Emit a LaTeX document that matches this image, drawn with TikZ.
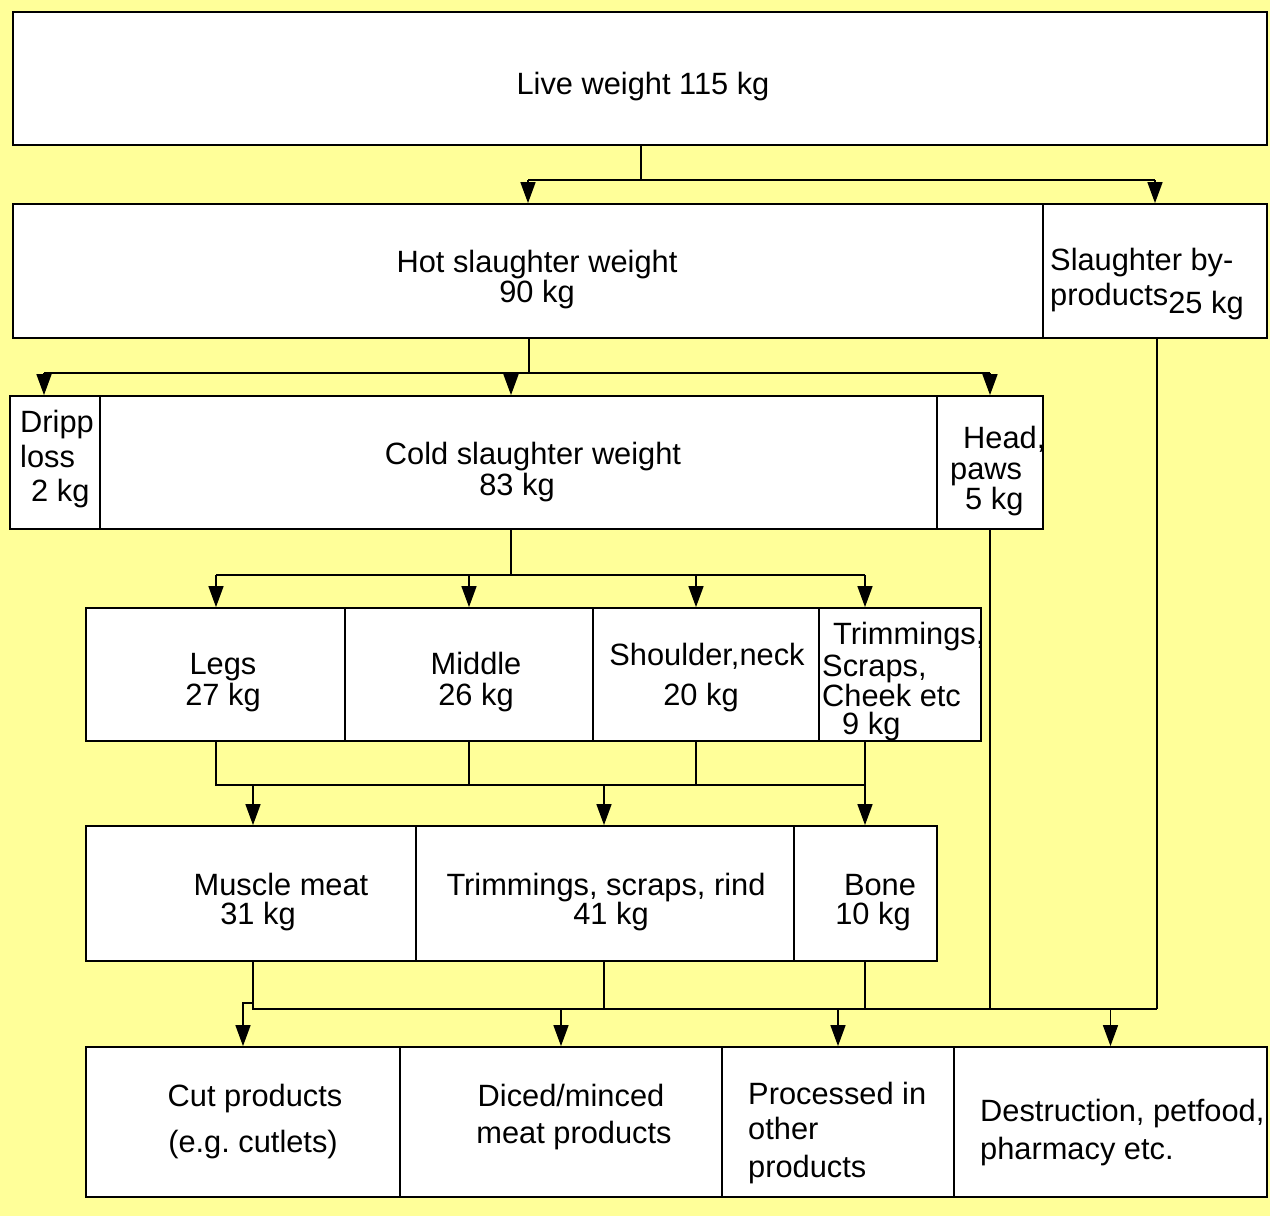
\documentclass[tikz,border=0pt]{standalone}
\usepackage{fontspec}
\setmainfont{Liberation Sans}
\usetikzlibrary{arrows.meta}
\definecolor{bgyellow}{HTML}{FFFF99}

% a white cell given by its left, top, right and bottom edges
\newcommand\cell[5]{%
  \node[box, minimum width={(#4-#2)*1pt}, minimum height={(#5-#3)*1pt}]
    (#1) at ({(#2+#4)/2},{(#3+#5)/2}) {};}

\begin{document}
\begin{tikzpicture}[x=1pt,y=-1pt,
  box/.style={draw=black, fill=white, line width=1.8pt, inner sep=0pt},
  wire/.style={draw=black, line width=1.5pt},
  arr/.style={wire, -{Triangle[length=21pt,width=15pt]}},
  lbl/.style={inner sep=0pt, anchor=base, text=black,
              font=\fontsize{30.8}{30}\selectfont},
  lbll/.style={lbl, anchor=base west}]

\fill[bgyellow] (0,0) rectangle (1270,1216);
\useasboundingbox (0,0) rectangle (1270,1216);

% ---- cells ----
\cell{live}{13}{12}{1267}{145}
\cell{hot}{13}{204}{1043}{338}
\cell{byp}{1043}{204}{1267}{338}
\cell{dripp}{10}{396}{100}{529}
\cell{cold}{100}{396}{937}{529}
\cell{head}{937}{396}{1043}{529}
\cell{legs}{86}{608}{345}{741}
\cell{middle}{345}{608}{593}{741}
\cell{shoulder}{593}{608}{819}{741}
\cell{trim}{819}{608}{981}{741}
\cell{muscle}{86}{826}{416}{961}
\cell{rind}{416}{826}{794}{961}
\cell{bone}{794}{826}{937}{961}
\cell{cut}{86}{1047}{400}{1197}
\cell{diced}{400}{1047}{722}{1197}
\cell{proc}{722}{1047}{954}{1197}
\cell{dest}{954}{1047}{1267}{1197}

% ---- live weight -> hot weight / by-products ----
\coordinate (r1) at (641,180);
\draw[wire] (r1 |- live.south) -- (r1);
\draw[wire] (r1 -| hot.north) -- (r1 -| byp.north);
\draw[arr] (r1 -| hot.north) -- (hot.north);
\draw[arr] (r1 -| byp.north) -- (byp.north);

% ---- hot weight -> dripp loss / cold weight / head ----
\coordinate (r2) at (529,373);
\coordinate (a1) at (44,373);
\coordinate (a2) at (511,373);
\coordinate (a3) at (990,373);
\draw[wire] (r2 |- hot.south) -- (r2);
\draw[wire] (a1) -- (a3);
\draw[arr] (a1) -- (a1 |- dripp.north);
\draw[arr] (a2) -- (a2 |- cold.north);
\draw[arr] (a3) -- (a3 |- head.north);

% ---- cold weight -> cuts ----
\coordinate (r3) at (511,575);
\coordinate (b1) at (216,575);
\coordinate (b2) at (469,575);
\coordinate (b3) at (696,575);
\coordinate (b4) at (865,575);
\draw[wire] (r3 |- cold.south) -- (r3);
\draw[wire] (b1) -- (b4);
\draw[arr] (b1) -- (b1 |- legs.north);
\draw[arr] (b2) -- (b2 |- middle.north);
\draw[arr] (b3) -- (b3 |- shoulder.north);
\draw[arr] (b4) -- (b4 |- trim.north);

% ---- cuts -> meat / trimmings / bone ----
\coordinate (c1) at (216,785);
\coordinate (c2) at (469,785);
\coordinate (c3) at (696,785);
\coordinate (c4) at (865,785);
\coordinate (d1) at (253,785);
\coordinate (d2) at (604,785);
\draw[wire] (c1 |- legs.south) -- (c1) -- (c4);
\draw[wire] (c2 |- middle.south) -- (c2);
\draw[wire] (c3 |- shoulder.south) -- (c3);
\draw[wire] (c4 |- trim.south) -- (c4);
\draw[arr] (d1) -- (d1 |- muscle.north);
\draw[arr] (d2) -- (d2 |- rind.north);
\draw[arr] (c4) -- (c4 |- bone.north);

% ---- everything -> end uses ----
\coordinate (e1) at (253,1009);
\coordinate (e2) at (604,1009);
\coordinate (e3) at (865,1009);
\coordinate (e4) at (990,1009);
\coordinate (e5) at (1157,1009);
\coordinate (jog) at (253,1003);
\draw[wire] (e1 |- muscle.south) -- (e1) -- (e5);
\draw[wire] (e2 |- rind.south) -- (e2);
\draw[wire] (e3 |- bone.south) -- (e3);
\draw[wire] (e4 |- head.south) -- (e4);
\draw[wire] (e5 |- byp.south) -- (e5);
\draw[arr] (jog) -| (cut.north);
\draw[arr] (e1 -| diced.north) -- (diced.north);
\draw[arr] (e1 -| proc.north) -- (proc.north);
\draw[arr] (e1 -| dest.north) -- (dest.north);

% ---- texts ----
\node[lbl] (t-live) at (643,94) {Live weight 115 kg};

\node[lbl] (t-hot1) at (537,272) {Hot slaughter weight};
\node[lbl] (t-hot2) at (537,302) {90 kg};
\node[lbll] (t-byp1) at (1050,270) {Slaughter by-};
\node[lbll] (t-byp2) at (1050,305) {products\raisebox{-8pt}{25 kg}};

\node[lbll] (t-dri1) at (20,432) {Dripp};
\node[lbll] (t-dri2) at (20,467) {loss};
\node[lbll] (t-dri3) at (31,501) {2 kg};
\node[lbl] (t-cold1) at (533,464) {Cold slaughter weight};
\node[lbl] (t-cold2) at (517,495) {83 kg};
\node[lbll] (t-head1) at (963,448) {Head,};
\node[lbll] (t-head2) at (950,479) {paws};
\node[lbll] (t-head3) at (965,509) {5 kg};

\node[lbl] (t-legs1) at (223,674) {Legs};
\node[lbl] (t-legs2) at (223,705) {27 kg};
\node[lbl] (t-mid1) at (476,674) {Middle};
\node[lbl] (t-mid2) at (476,705) {26 kg};
\node[lbl] (t-sho1) at (707,665) {Shoulder,neck};
\node[lbl] (t-sho2) at (701,705) {20 kg};
\node[lbll] (t-tri1) at (833,644) {Trimmings,};
\node[lbll] (t-tri2) at (822,676) {Scraps,};
\node[lbll] (t-tri3) at (822,706) {Cheek etc};
\node[lbll] (t-tri4) at (842,734) {9 kg};

\node[lbl] (t-mus1) at (281,895) {Muscle meat};
\node[lbl] (t-mus2) at (258,924) {31 kg};
\node[lbl] (t-rin1) at (606,895) {Trimmings, scraps, rind};
\node[lbl] (t-rin2) at (611,924) {41 kg};
\node[lbl] (t-bon1) at (880,895) {Bone};
\node[lbl] (t-bon2) at (873,924) {10 kg};

\node[lbl] (t-cut1) at (255,1106) {Cut products};
\node[lbl] (t-cut2) at (253,1152) {(e.g.\ cutlets)};
\node[lbl] (t-dic1) at (571,1106) {Diced/minced};
\node[lbl] (t-dic2) at (574,1143) {meat products};
\node[lbll] (t-pro1) at (748,1104) {Processed in};
\node[lbll] (t-pro2) at (748,1139) {other};
\node[lbll] (t-pro3) at (748,1177) {products};
\node[lbll] (t-des1) at (980,1121) {Destruction, petfood,};
\node[lbll] (t-des2) at (980,1159) {pharmacy etc.};
\end{tikzpicture}
\end{document}
